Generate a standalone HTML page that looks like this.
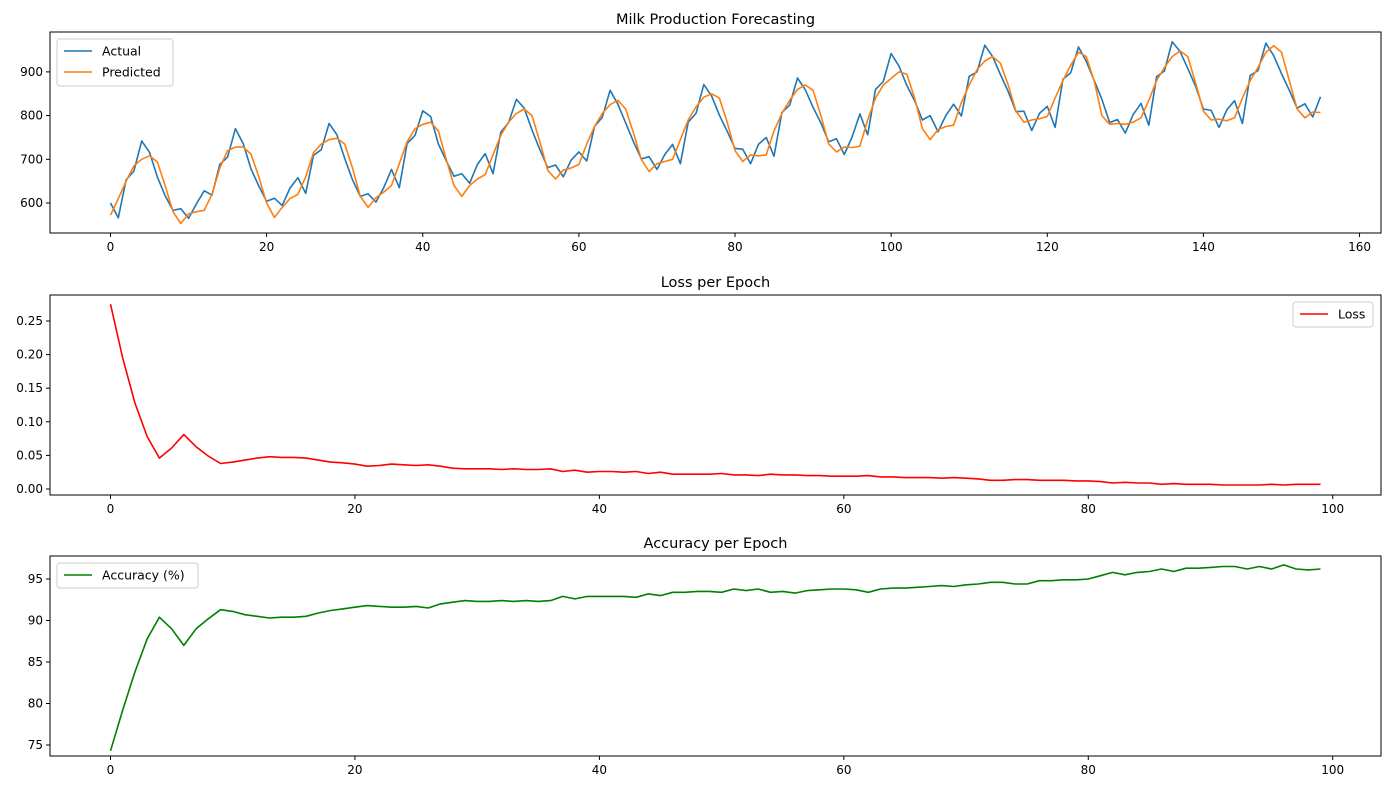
<!DOCTYPE html>
<html><head><meta charset="utf-8"><style>
body{margin:0;background:#fff}
svg{display:block;font-family:"DejaVu Sans","Liberation Sans",sans-serif}
</style></head><body>
<svg id="fig" width="1389" height="790" xmlns="http://www.w3.org/2000/svg"></svg>
<script>
const actual=[600,566,653,673,742,716,660,617,583,587,565,598,628,618,688,705,770,736,678,639,604,611,594,634,658,622,709,722,782,756,702,653,615,621,602,635,677,635,736,755,811,798,735,697,661,667,645,688,713,667,762,784,837,817,767,722,681,687,660,698,717,696,775,796,858,826,783,740,701,706,677,711,734,690,785,805,871,845,801,764,725,723,690,734,750,707,807,824,886,859,819,783,740,747,711,751,804,756,860,878,942,913,869,834,790,800,763,800,826,799,890,900,961,935,894,855,809,810,766,805,821,773,883,898,957,924,881,837,784,791,760,802,828,778,889,902,969,947,908,867,815,812,773,813,834,782,892,903,966,937,896,858,817,827,797,843];
const predicted=[572,610,650,685,700,708,694,640,580,553,575,580,583,620,680,720,728,728,712,660,600,567,590,610,620,660,715,735,745,748,735,680,615,590,612,625,640,690,740,770,780,785,765,700,640,615,640,655,665,710,755,785,805,815,800,740,675,655,675,680,688,735,775,805,825,835,815,760,700,672,690,695,700,745,790,820,842,850,840,785,720,695,710,708,710,765,805,835,860,870,858,800,735,717,728,727,730,790,840,870,885,900,895,840,770,745,768,775,778,830,870,905,925,935,920,870,810,785,790,793,798,840,880,915,945,935,880,800,780,782,780,785,795,835,880,910,935,948,935,875,810,790,792,788,795,840,880,910,945,960,945,880,815,795,808,807];
const loss=[0.275,0.195,0.128,0.078,0.046,0.061,0.081,0.063,0.049,0.038,0.040,0.043,0.046,0.048,0.047,0.047,0.046,0.043,0.040,0.039,0.037,0.034,0.035,0.037,0.036,0.035,0.036,0.034,0.031,0.030,0.030,0.030,0.029,0.030,0.029,0.029,0.030,0.026,0.028,0.025,0.026,0.026,0.025,0.026,0.023,0.025,0.022,0.022,0.022,0.022,0.023,0.021,0.021,0.020,0.022,0.021,0.021,0.020,0.020,0.019,0.019,0.019,0.020,0.018,0.018,0.017,0.017,0.017,0.016,0.017,0.016,0.015,0.013,0.013,0.014,0.014,0.013,0.013,0.013,0.012,0.012,0.011,0.009,0.010,0.009,0.009,0.007,0.008,0.007,0.007,0.007,0.006,0.006,0.006,0.006,0.007,0.006,0.007,0.007,0.007];
const accuracy=[74.3,79.2,83.8,87.8,90.4,89.0,87.0,89.0,90.2,91.3,91.1,90.7,90.5,90.3,90.4,90.4,90.5,90.9,91.2,91.4,91.6,91.8,91.7,91.6,91.6,91.7,91.5,92.0,92.2,92.4,92.3,92.3,92.4,92.3,92.4,92.3,92.4,92.9,92.6,92.9,92.9,92.9,92.9,92.8,93.2,93.0,93.4,93.4,93.5,93.5,93.4,93.8,93.6,93.8,93.4,93.5,93.3,93.6,93.7,93.8,93.8,93.7,93.4,93.8,93.9,93.9,94.0,94.1,94.2,94.1,94.3,94.4,94.6,94.6,94.4,94.4,94.8,94.8,94.9,94.9,95.0,95.4,95.8,95.5,95.8,95.9,96.2,95.9,96.3,96.3,96.4,96.5,96.5,96.2,96.5,96.2,96.7,96.2,96.1,96.2];
const xticks1=[0,20,40,60,80,100,120,140,160];
const yticks1=[600,700,800,900];
const xticks2=[0,20,40,60,80,100];
const yticks2=[0.00,0.05,0.10,0.15,0.20,0.25];
const yticks3=[75,80,85,90,95];

const NS="http://www.w3.org/2000/svg";
const svg=document.getElementById('fig');
function el(tag,attrs,parent){const e=document.createElementNS(NS,tag);for(const k in attrs)e.setAttribute(k,attrs[k]);(parent||svg).appendChild(e);return e;}
const L=50,R=1381;
function panel(cfg){
  const g=el('g',{});
  
  
  const xs=v=>L+(v-cfg.xmin)/(cfg.xmax-cfg.xmin)*(R-L);
  const ys=v=>cfg.bot-(v-cfg.ymin)/(cfg.ymax-cfg.ymin)*(cfg.bot-cfg.top);
  const t=el('text',{x:(L+R)/2,y:cfg.top-8,'text-anchor':'middle','font-size':14.5,fill:'#000'},g);
  t.textContent=cfg.title;
  
  
  cfg.xticks.forEach(v=>{const x=xs(v);
    el('line',{x1:x,x2:x,y1:cfg.bot,y2:cfg.bot+4,stroke:'#000','stroke-width':1},g);
    const tx=el('text',{x:x,y:cfg.bot+18,'text-anchor':'middle','font-size':12},g);tx.textContent=v;
    
    });
  cfg.yticks.forEach(v=>{const y=ys(v);
    el('line',{x1:L-4,x2:L,y1:y,y2:y,stroke:'#000','stroke-width':1},g);
    const ty=el('text',{x:L-7,y:y+4,'text-anchor':'end','font-size':12},g);ty.textContent=cfg.fmt(v);
    
    });
  cfg.series.forEach(s=>{
    const p=el('polyline',{points:s.data.map((v,i)=>xs(i).toFixed(1)+','+ys(v).toFixed(1)).join(' '),fill:'none',stroke:s.color,'stroke-width':1.6,'stroke-linejoin':'round'},g);
    
    });
  el('rect',{x:L,y:cfg.top,width:R-L,height:cfg.bot-cfg.top,fill:'none',stroke:'#000','stroke-width':1},g);
  const lg=cfg.legend;
  const lgg=el('g',{},g);
  
  
  el('rect',{x:lg.x,y:lg.y,width:lg.w,height:lg.h,rx:3,fill:'#fff','fill-opacity':0.85,stroke:'#ccc'},lgg);
  cfg.series.forEach((s,i)=>{const yy=lg.y+12+i*21;
    el('line',{x1:lg.x+7,x2:lg.x+35,y1:yy,y2:yy,stroke:s.color,'stroke-width':1.6},lgg);
    const lt=el('text',{x:lg.x+45,y:yy+4.5,'font-size':12.5},lgg);lt.textContent=s.label;
    
    });
}
panel({name:'milk-forecast-chart',title:'Milk Production Forecasting',top:32,bot:233,xmin:-7.75,xmax:162.75,ymin:600-30/0.437,ymax:600+(203-32)/0.437,
  xticks:xticks1,yticks:yticks1,fmt:v=>v,
  series:[{data:actual,color:'#1f77b4',label:'Actual',name:'actual-line'},{data:predicted,color:'#ff7f0e',label:'Predicted',name:'predicted-line'}],
  legend:{x:57,y:39,w:116,h:47}});
panel({name:'loss-chart',title:'Loss per Epoch',top:295,bot:495,xmin:-4.95,xmax:103.95,ymin:-6/672,ymax:(489-295)/672,
  xticks:xticks2,yticks:yticks2,fmt:v=>v.toFixed(2),
  series:[{data:loss,color:'#ff0000',label:'Loss',name:'loss-line'}],
  legend:{x:1293,y:302,w:80,h:25}});
panel({name:'accuracy-chart',title:'Accuracy per Epoch',top:556,bot:756,xmin:-4.95,xmax:103.95,ymin:75-11/8.3,ymax:75+(745-556)/8.3,
  xticks:xticks2,yticks:yticks3,fmt:v=>v,
  series:[{data:accuracy,color:'#008000',label:'Accuracy (%)',name:'accuracy-line'}],
  legend:{x:57,y:563,w:141,h:25}});
</script>
</body></html>
